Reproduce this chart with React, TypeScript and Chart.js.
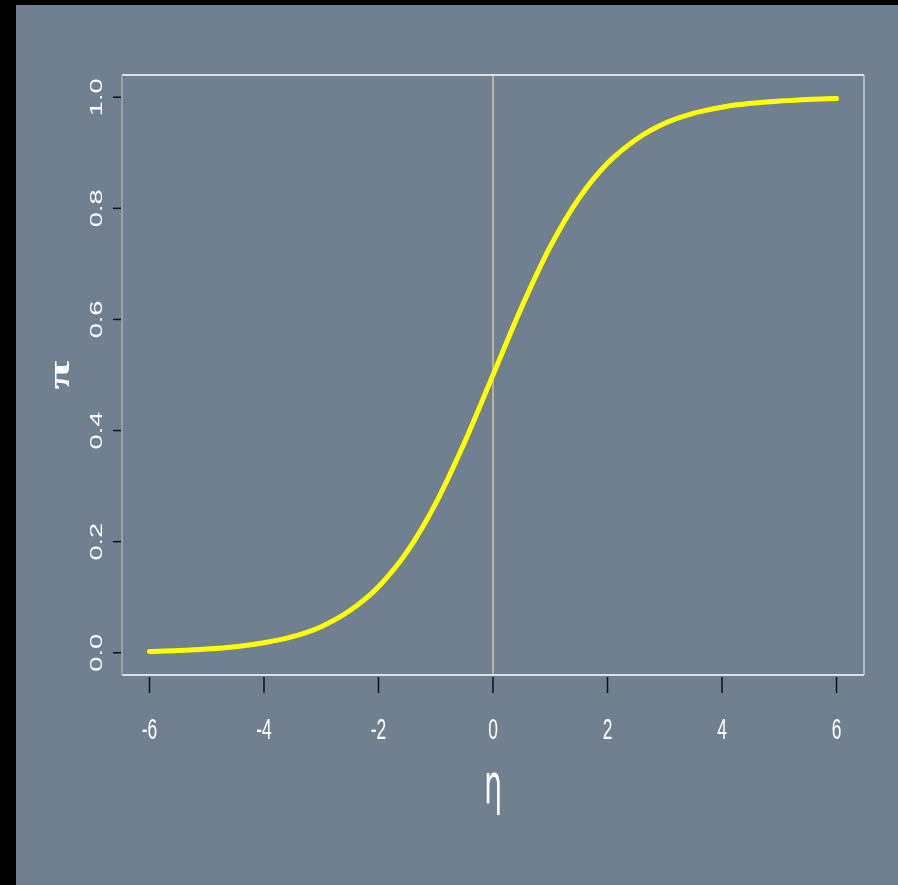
import React, { useEffect, useRef } from "react";
import { Chart, registerables } from "chart.js";

Chart.register(...registerables);

// Data (eta vs pi)
const etaValues = [-6, -5.5, -5, -4.5, -4, -3.5, -3, -2.5, -2, -1.5, -1, -0.5, 0, 0.5, 1, 1.5, 2, 2.5, 3, 3.5, 4, 4.5, 5, 5.5, 6];
const piValues = [0.0025, 0.004, 0.0067, 0.011, 0.018, 0.029, 0.047, 0.076, 0.119, 0.182, 0.269, 0.378, 0.5, 0.622, 0.731, 0.818, 0.881, 0.924, 0.953, 0.971, 0.982, 0.989, 0.993, 0.996, 0.9975];

const xTicks = [-6, -4, -2, 0, 2, 4, 6];
const xTickLabels = ["-6", "-4", "-2", "0", "2", "4", "6"];
const yTicks = [0, 0.2, 0.4, 0.6, 0.8, 1.0];
const yTickLabels = ["0.0", "0.2", "0.4", "0.6", "0.8", "1.0"];
const xRange = [-6.48, 6.48];
const yRange = [-0.04, 1.04];
const refLineX = 0;
const xTitle = "η";
const yTitle = "π";

const W = 882;
const H = 880;

const decor = {
  id: "decor",
  beforeDatasetsDraw(chart: any) {
    const { ctx, chartArea: a, scales } = chart;
    const px = scales.x.getPixelForValue(refLineX);
    ctx.save();
    ctx.strokeStyle = "#b9b39c";
    ctx.lineWidth = 2;
    ctx.beginPath();
    ctx.moveTo(px, a.top);
    ctx.lineTo(px, a.bottom);
    ctx.stroke();
    ctx.restore();
  },
  afterDraw(chart: any) {
    const { ctx, chartArea: a, scales } = chart;
    const xs = scales.x;
    const ys = scales.y;
    ctx.save();
    // box
    ctx.lineWidth = 1.5;
    ctx.strokeStyle = "#ffffff";
    ctx.beginPath();
    ctx.moveTo(a.left, a.top);
    ctx.lineTo(a.right, a.top);
    ctx.moveTo(a.left, a.bottom);
    ctx.lineTo(a.right, a.bottom);
    ctx.stroke();
    ctx.strokeStyle = "#c9ced4";
    ctx.beginPath();
    ctx.moveTo(a.right, a.top);
    ctx.lineTo(a.right, a.bottom);
    ctx.stroke();
    ctx.strokeStyle = "#a7abb0";
    ctx.beginPath();
    ctx.moveTo(a.left, a.top);
    ctx.lineTo(a.left, a.bottom);
    ctx.stroke();

    // x ticks
    ctx.strokeStyle = "#111111";
    ctx.lineWidth = 1.5;
    xs.ticks.forEach((t: any) => {
      const p = xs.getPixelForValue(t.value);
      ctx.beginPath();
      ctx.moveTo(p, a.bottom + 2);
      ctx.lineTo(p, a.bottom + 18);
      ctx.stroke();
    });
    // y ticks
    ys.ticks.forEach((t: any) => {
      const p = ys.getPixelForValue(t.value);
      ctx.beginPath();
      ctx.moveTo(a.left - 9, p);
      ctx.lineTo(a.left - 1, p);
      ctx.stroke();
    });

    ctx.fillStyle = "#ffffff";
    // x tick labels (condensed)
    ctx.font = '29px "Liberation Sans"';
    ctx.textAlign = "center";
    ctx.textBaseline = "alphabetic";
    xs.ticks.forEach((t: any, i: number) => {
      const p = xs.getPixelForValue(t.value);
      ctx.save();
      ctx.translate(p, a.bottom + 64);
      ctx.scale(0.6, 1);
      ctx.fillText(xTickLabels[i], 0, 0);
      ctx.restore();
    });
    // y tick labels (rotated, stretched)
    ctx.font = '16px "Liberation Sans"';
    ys.ticks.forEach((t: any, i: number) => {
      const p = ys.getPixelForValue(t.value);
      ctx.save();
      ctx.translate(a.left - 20, p);
      ctx.rotate(-Math.PI / 2);
      ctx.scale(1.7, 1);
      ctx.fillText(yTickLabels[i], 0, 0);
      ctx.restore();
    });

    // x title
    ctx.save();
    ctx.font = '56px "DejaVu Sans"';
    ctx.translate((a.left + a.right) / 2, a.bottom + 128);
    ctx.scale(0.5, 1);
    ctx.fillText(xTitle, 0, 0);
    ctx.restore();

    // y title
    ctx.save();
    ctx.font = 'bold 30px "Liberation Serif"';
    ctx.translate(a.left - 53, (a.top + a.bottom) / 2);
    ctx.rotate(-Math.PI / 2);
    ctx.scale(1.75, 1);
    ctx.fillText(yTitle, 0, 0);
    ctx.restore();

    ctx.restore();
  },
};

export default function App() {
  const ref = useRef<HTMLCanvasElement>(null);
  useEffect(() => {
    if (!ref.current) return;
    const chart = new Chart(ref.current, {
      type: "line",
      data: {
        datasets: [
          {
            data: etaValues.map((x, i) => ({ x, y: piValues[i] })),
            borderColor: "#ffff00",
            borderWidth: 5,
            pointRadius: 0,
            cubicInterpolationMode: "monotone",
            borderCapStyle: "round",
            fill: false,
          },
        ],
      },
      options: {
        responsive: false,
        animation: false,
        devicePixelRatio: 1,
        layout: { padding: { left: 106, right: 34, top: 70, bottom: 210 } },
        plugins: { legend: { display: false }, tooltip: { enabled: false } },
        scales: {
          x: {
            type: "linear",
            display: false,
            min: xRange[0],
            max: xRange[1],
            afterBuildTicks: (s: any) => {
              s.ticks = xTicks.map((v) => ({ value: v }));
            },
          },
          y: {
            type: "linear",
            display: false,
            min: yRange[0],
            max: yRange[1],
            afterBuildTicks: (s: any) => {
              s.ticks = yTicks.map((v) => ({ value: v }));
            },
          },
        },
      },
      plugins: [decor],
    });
    return () => chart.destroy();
  }, []);
  return (
    <div style={{ position: "absolute", left: 0, top: 0, width: 898, height: 885, background: "#000", overflow: "hidden" }}>
      <div style={{ position: "absolute", left: 16, top: 5, width: W, height: H, background: "#708090" }}>
        <canvas ref={ref} width={W} height={H} style={{ display: "block" }} />
      </div>
    </div>
  );
}
